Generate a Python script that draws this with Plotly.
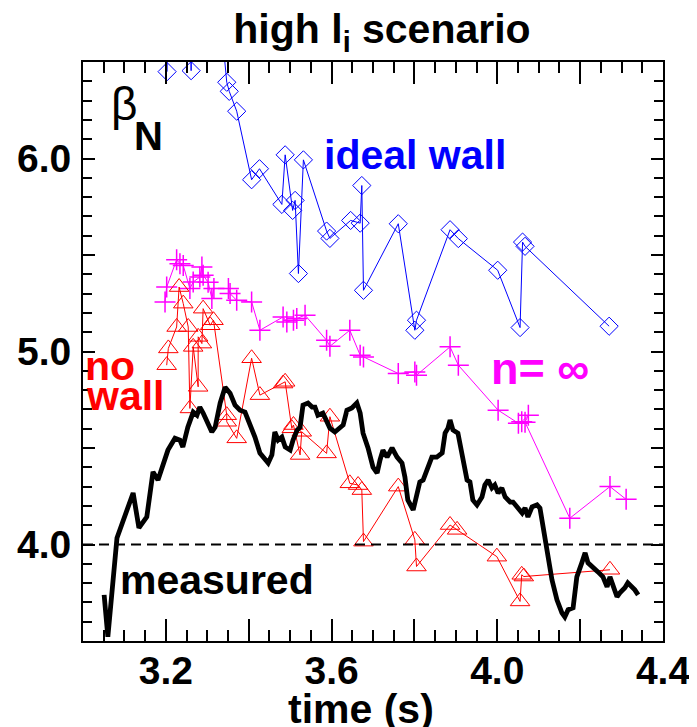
import plotly.graph_objects as go

# ---------------- data ----------------
# measured beta_N (black trace)
meas_t = [3.051, 3.060, 3.082, 3.121, 3.135, 3.154, 3.169, 3.181, 3.205, 3.222,
          3.234, 3.241, 3.253, 3.266, 3.275, 3.282, 3.290, 3.299, 3.311, 3.319,
          3.331, 3.343, 3.355, 3.367, 3.379, 3.391, 3.403, 3.415, 3.427, 3.439,
          3.447, 3.456, 3.463, 3.471, 3.480, 3.488, 3.500, 3.507, 3.517, 3.524,
          3.531, 3.543, 3.553, 3.560, 3.567, 3.579, 3.589, 3.596, 3.608, 3.615,
          3.628, 3.637, 3.649, 3.661, 3.669, 3.676, 3.688, 3.700, 3.710, 3.717,
          3.724, 3.734, 3.746, 3.758, 3.770, 3.777, 3.784, 3.797, 3.806, 3.813,
          3.821, 3.833, 3.842, 3.854, 3.867, 3.874, 3.881, 3.886, 3.893, 3.905,
          3.915, 3.927, 3.934, 3.941, 3.951, 3.963, 3.970, 3.978, 3.987, 3.994,
          4.002, 4.011, 4.019, 4.031, 4.038, 4.048, 4.060, 4.067, 4.074, 4.084,
          4.096, 4.103, 4.110, 4.120, 4.132, 4.144, 4.156, 4.163, 4.171, 4.183,
          4.192, 4.204, 4.212, 4.219, 4.231, 4.243, 4.255, 4.265, 4.272, 4.279,
          4.289, 4.296, 4.308, 4.315, 4.325, 4.332, 4.340]
meas_b = [3.739, 3.522, 4.034, 4.267, 4.086, 4.143, 4.376, 4.334, 4.489, 4.551,
          4.541, 4.505, 4.608, 4.686, 4.670, 4.712, 4.681, 4.634, 4.583, 4.608,
          4.733, 4.815, 4.784, 4.722, 4.696, 4.686, 4.629, 4.557, 4.474, 4.438,
          4.422, 4.464, 4.583, 4.541, 4.557, 4.505, 4.489, 4.541, 4.593, 4.608,
          4.722, 4.733, 4.712, 4.712, 4.670, 4.681, 4.629, 4.603, 4.583, 4.593,
          4.619, 4.696, 4.707, 4.733, 4.681, 4.577, 4.500, 4.401, 4.370, 4.438,
          4.489, 4.453, 4.500, 4.453, 4.422, 4.350, 4.231, 4.179, 4.267, 4.324,
          4.334, 4.401, 4.453, 4.453, 4.474, 4.577, 4.603, 4.645, 4.593, 4.577,
          4.453, 4.334, 4.324, 4.231, 4.205, 4.246, 4.308, 4.334, 4.293, 4.308,
          4.267, 4.293, 4.246, 4.220, 4.220, 4.195, 4.163, 4.189, 4.143, 4.195,
          4.205, 4.189, 4.091, 3.988, 3.817, 3.713, 3.646, 3.625, 3.662, 3.672,
          3.832, 3.905, 3.957, 3.905, 3.884, 3.858, 3.832, 3.781, 3.832, 3.781,
          3.729, 3.750, 3.776, 3.801, 3.781, 3.765, 3.739]

# ideal wall limit (blue diamonds); 6.9 = above plotted range
ideal_t = [3.203, 3.205, 3.258, 3.261, 3.263, 3.325, 3.347, 3.353, 3.371, 3.407,
           3.426, 3.480, 3.488, 3.506, 3.512, 3.520, 3.532, 3.588, 3.596, 3.646,
           3.669, 3.673, 3.677, 3.761, 3.801, 3.805, 3.886, 3.906, 4.001, 4.055,
           4.061, 4.067, 4.270]
ideal_b = [6.450, 6.900, 6.900, 6.455, 6.900, 6.900, 6.395, 6.348, 6.245, 5.890,
           5.947, 5.762, 6.019, 5.731, 5.783, 5.404, 5.993, 5.624, 5.586, 5.679,
           5.665, 5.860, 5.317, 5.662, 5.110, 5.162, 5.631, 5.585, 5.421, 5.124,
           5.567, 5.545, 5.131]

# n = infinity limit (magenta crosses)
ninf_t = [3.198, 3.202, 3.226, 3.234, 3.242, 3.258, 3.266, 3.282, 3.287, 3.290,
          3.302, 3.311, 3.316, 3.351, 3.355, 3.371, 3.407, 3.427, 3.483, 3.492,
          3.508, 3.516, 3.536, 3.588, 3.596, 3.644, 3.669, 3.677, 3.761, 3.801,
          3.805, 3.886, 3.906, 4.002, 4.051, 4.059, 4.075, 4.067, 4.175, 4.272,
          4.311]
ninf_b = [5.257, 5.334, 5.476, 5.455, 5.446, 5.326, 5.360, 5.386, 5.438, 5.395,
          5.359, 5.274, 5.327, 5.326, 5.300, 5.265, 5.257, 5.110, 5.179, 5.153,
          5.162, 5.171, 5.188, 5.058, 5.027, 5.110, 4.981, 4.972, 4.886, 4.894,
          4.877, 5.024, 4.929, 4.696, 4.628, 4.636, 4.670, 4.634, 4.136, 4.300,
          4.234]

# no wall limit (red triangles)
nowall_t = [3.202, 3.206, 3.226, 3.232, 3.242, 3.254, 3.258, 3.266, 3.278, 3.278,
            3.287, 3.290, 3.307, 3.315, 3.347, 3.347, 3.371, 3.407, 3.427, 3.483,
            3.488, 3.504, 3.508, 3.524, 3.528, 3.588, 3.596, 3.644, 3.664, 3.673,
            3.677, 3.761, 3.801, 3.805, 3.886, 3.903, 3.999, 4.055, 4.059, 4.064,
            4.272]
nowall_b = [4.929, 5.016, 5.127, 5.334, 5.248, 5.127, 4.705, 5.024, 4.817, 5.076,
            5.041, 5.222, 5.136, 5.162, 4.670, 4.636, 4.550, 4.965, 4.774, 4.834,
            4.843, 4.602, 4.619, 4.464, 4.584, 4.472, 4.662, 4.317, 4.308, 4.282,
            4.015, 4.300, 4.024, 3.886, 4.101, 4.076, 3.937, 3.705, 3.843, 3.834,
            3.869]

ref_level = 4.0
x_range = [3.0, 4.4]
y_range = [3.5, 6.5]
x_label_ticks = [3.2, 3.6, 4.0, 4.4]
x_label_text = ["3.2", "3.6", "4.0", "4.4"]
x_long_ticks = [3.4, 3.8, 4.2]
y_label_ticks = [4.0, 5.0, 6.0]
y_label_text = ["4.0", "5.0", "6.0"]
y_long_ticks = [4.5, 5.5]

FONT = "Liberation Sans"
BLUE = "#0000ff"
MAGENTA = "#ff00ff"
RED = "#ff0000"

# the page body adds an 8 px offset; target positions below are in window pixels
OFF = 8
WIN_W, WIN_H = 697, 727
W, H = WIN_W - OFF, WIN_H - OFF
PLOT_L, PLOT_R, PLOT_T, PLOT_B = 83, 663, 62, 641  # plot frame in window pixels
L, T = PLOT_L - OFF, PLOT_T - OFF
R, B = W - (PLOT_R - OFF), H - (PLOT_B - OFF)

fig = go.Figure()

fig.add_trace(go.Scatter(
    x=ideal_t, y=ideal_b, mode="lines+markers",
    line=dict(color=BLUE, width=1),
    marker=dict(symbol="diamond-open", size=14, color=BLUE, line=dict(width=1, color=BLUE)),
    showlegend=False))

fig.add_trace(go.Scatter(
    x=ninf_t, y=ninf_b, mode="lines+markers",
    line=dict(color=MAGENTA, width=1),
    marker=dict(symbol="cross-thin-open", size=15, color=MAGENTA, line=dict(width=1.5, color=MAGENTA)),
    showlegend=False))

fig.add_trace(go.Scatter(
    x=nowall_t, y=nowall_b, mode="lines+markers",
    line=dict(color=RED, width=1),
    marker=dict(symbol="triangle-up-open", size=17, color=RED, line=dict(width=1, color=RED)),
    showlegend=False))

fig.add_trace(go.Scatter(
    x=meas_t, y=meas_b, mode="lines",
    line=dict(color="black", width=4.8),
    showlegend=False))

# dashed reference level, drawn on the overlaying axes that carry the long unlabeled ticks
fig.add_trace(go.Scatter(
    x=x_range, y=[ref_level, ref_level], mode="lines", xaxis="x2", yaxis="y2",
    line=dict(color="black", width=2, dash="10px,6px"),
    showlegend=False, hoverinfo="skip"))

annotations = [
    dict(text="β", x=124, y=104, font=dict(family=FONT, size=46, color="black")),
    dict(text="<b>N</b>", x=148, y=136, font=dict(family=FONT, size=40, color="black")),
    dict(text="<b>ideal wall</b>", x=415, y=155, font=dict(family=FONT, size=41, color=BLUE)),
    dict(text="<b>n= ∞</b>", x=540, y=368, font=dict(family=FONT, size=45, color=MAGENTA)),
    dict(text="<b>no</b>", x=110, y=366, font=dict(family=FONT, size=41, color=RED)),
    dict(text="<b>wall</b>", x=125, y=396, font=dict(family=FONT, size=41, color=RED)),
    dict(text="<b>measured</b>", x=217, y=580, font=dict(family=FONT, size=41, color="black")),
    dict(text="<b>time (s)</b>", x=361, y=709, font=dict(family=FONT, size=41, color="black")),
]
pw, ph = W - L - R, H - T - B
for a in annotations:
    fig.add_annotation(text=a["text"], xref="paper", yref="paper",
                       x=(a["x"] - PLOT_L) / pw, y=1 - (a["y"] - PLOT_T) / ph,
                       xanchor="center", yanchor="middle", showarrow=False, font=a["font"])

axis_common = dict(showgrid=False, zeroline=False, showline=True, linecolor="black",
                   linewidth=2, mirror="allticks", ticks="inside", tickcolor="black",
                   tickwidth=1.5, automargin=False)
tick_font = dict(family=FONT, size=39, color="black", weight="bold")

fig.update_layout(
    width=W, height=H,
    margin=dict(l=L, r=R, t=T, b=B),
    paper_bgcolor="white", plot_bgcolor="white",
    xaxis=dict(range=x_range, tickmode="array", tickvals=x_label_ticks, ticktext=x_label_text,
               ticklen=22, tickfont=tick_font, ticklabelstandoff=-6,
               minor=dict(tick0=3.0, dtick=0.05, ticklen=11, ticks="inside",
                          tickcolor="black", tickwidth=1.5),
               **axis_common),
    yaxis=dict(range=y_range, tickmode="array", tickvals=y_label_ticks, ticktext=y_label_text,
               ticklen=12, tickfont=tick_font, ticklabelstandoff=2,
               minor=dict(tick0=3.5, dtick=0.1, ticklen=9, ticks="inside",
                          tickcolor="black", tickwidth=1.5),
               **axis_common),
    xaxis2=dict(range=x_range, overlaying="x", side="bottom", tickmode="array",
                tickvals=x_long_ticks, ticklen=22, showticklabels=False, **axis_common),
    yaxis2=dict(range=y_range, overlaying="y", side="left", tickmode="array",
                tickvals=y_long_ticks, ticklen=12, showticklabels=False, **axis_common),
    title=dict(text="<b>high l<sub>i</sub> scenario</b>", x=(382 - OFF) / W, xref="container",
               y=1 - (29 - OFF) / H, yref="container", xanchor="center", yanchor="middle",
               font=dict(family=FONT, size=41, color="black")),
)

fig.write_html("out.html")
